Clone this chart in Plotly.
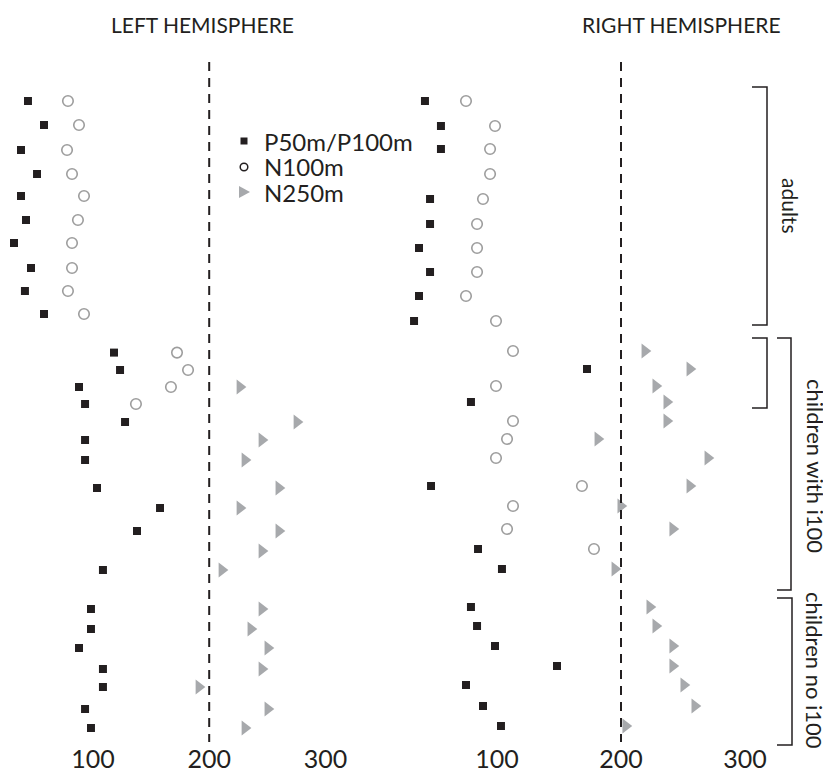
import plotly.graph_objects as go

# ---------------- data ----------------
# row positions (subject order, top to bottom)
left_rows = [1.0, 2.2, 3.45, 4.65, 5.75, 6.95, 8.1, 9.35, 10.5, 11.65,
             13.58, 14.45, 15.3, 16.15, 17.05, 17.95, 18.95, 20.35, 21.35, 22.5, 23.5, 24.45,
             26.4, 27.4, 28.35, 29.4, 30.3, 31.4, 32.35]
right_rows = [1.0, 2.25, 3.4, 4.65, 5.9, 7.15, 8.35, 9.55, 10.75, 12.0,
              13.5, 14.4, 15.25, 16.05, 17.0, 17.9, 18.85, 20.25, 21.25, 22.4, 23.4, 24.4,
              26.3, 27.25, 28.25, 29.25, 30.2, 31.25, 32.25]

N = None
left_p = [44.1, 57.9, 38.1, 51.9, 38.1, 42.4, 32.1, 46.7, 41.5, 57.9,
          118.1, 123.3, 88.0, 93.2, 127.6, 93.2, 93.2, 103.5, 157.7, 137.9, N, 108.6,
          98.3, 98.3, 88.0, 108.6, 108.6, 93.2, 98.3]
left_n100 = [78.5, 88.0, 77.7, 82.0, 92.3, 87.1, 82.0, 82.0, 78.5, 92.3,
             172.3, 181.8, 167.1, 137.0, N, N, N, N, N, N, N, N,
             N, N, N, N, N, N, N]
left_n250 = [N, N, N, N, N, N, N, N, N, N,
             N, N, 226.4, N, 275.4, 245.3, 230.7, 259.9, 226.4, 259.9, 245.3, 210.9,
             245.3, 235.8, 250.4, 245.3, 191.1, 250.4, 230.7]

right_p = [41.9, 54.8, 54.8, N, 46.0, 46.0, 37.1, 46.0, 37.1, 33.1,
           N, 172.6, N, 79.0, N, N, N, 46.8, N, N, 84.7, 104.0,
           79.0, 83.9, 98.4, 148.4, 75.0, 88.7, 103.2]
right_n100 = [75.0, 98.4, 94.4, 94.4, 88.7, 83.9, 83.9, 83.9, 75.0, 99.2,
              112.9, N, 99.2, N, 112.9, 108.1, 99.2, 168.5, 112.9, 108.1, 178.2, N,
              N, N, N, N, N, N, N]
right_n250 = [N, N, N, N, N, N, N, N, N, N,
              219.2, 255.5, 228.0, 236.9, 236.9, 181.3, 270.0, 255.5, 199.8, 241.7, N, 195.0,
              223.2, 228.0, 241.7, 241.7, 250.6, 259.5, 203.8]

tick_vals = [100, 200, 300]
tick_text = ["100", "200", "300"]
threshold = 200
titles = ["LEFT HEMISPHERE", "RIGHT HEMISPHERE"]
legend_names = ["P50m/P100m", "N100m", "N250m"]
groups = ["adults", "children with i100", "children no i100"]

# ---------------- style ----------------
W, H = 831, 784
OFF = 8  # page body margin
BLACK = "#231f20"
GRAY = "#a7a9ac"
CIRC = "#9d9d9d"
FONT = "Lato"


def xp(px):
    return (px - OFF) / W


def yp(px):
    return 1 - (px - OFF) / H


fig = go.Figure()

panels = [
    (left_rows, left_p, left_n100, left_n250, "x", "y"),
    (right_rows, right_p, right_n100, right_n250, "x2", "y2"),
]
for rows, p, n100, n250, xa, ya in panels:
    fig.add_trace(go.Scatter(x=p, y=rows, mode="markers", xaxis=xa, yaxis=ya,
                             marker=dict(symbol="square", size=8, color=BLACK),
                             showlegend=False, name=legend_names[0]))
    fig.add_trace(go.Scatter(x=n100, y=rows, mode="markers", xaxis=xa, yaxis=ya,
                             marker=dict(symbol="circle-open", size=10.5, color=CIRC,
                                         line=dict(width=1.6, color=CIRC)),
                             showlegend=False, name=legend_names[1]))
    fig.add_trace(go.Scatter(x=n250, y=rows, mode="markers", xaxis=xa, yaxis=ya,
                             marker=dict(symbol="triangle-right", size=13, color=GRAY),
                             showlegend=False, name=legend_names[2]))

# page-pixel calibration: left 200 -> 209.2px (1.1625 px/unit); right 200 -> 621px (1.24 px/unit)
axis_bottom_px = 742
ydom = [yp(axis_bottom_px), 1]
yrange = [(axis_bottom_px - 81) / 20, (OFF - 81) / 20]

L_LO, L_HI = OFF, 390
R_LO, R_HI = 395, W + OFF

common_x = dict(tickvals=tick_vals, ticktext=tick_text, showgrid=False, zeroline=False,
                showline=False, ticks="", tickfont=dict(family=FONT, size=25, color=BLACK))
common_y = dict(range=yrange, domain=ydom, showgrid=False, zeroline=False,
                showline=False, showticklabels=False, ticks="")

fig.update_layout(
    width=W, height=H, margin=dict(l=0, r=0, t=0, b=0),
    paper_bgcolor="white", plot_bgcolor="white",
    xaxis=dict(common_x, range=[200 + (L_LO - 209.2) / 1.1625, 200 + (L_HI - 209.2) / 1.1625],
               domain=[xp(L_LO), xp(L_HI)], anchor="y"),
    xaxis2=dict(common_x, range=[200 + (R_LO - 621) / 1.24, 200 + (R_HI - 621) / 1.24],
                domain=[xp(R_LO), xp(R_HI)], anchor="y2"),
    yaxis=dict(common_y, anchor="x"),
    yaxis2=dict(common_y, anchor="x2"),
    showlegend=False,
)

shapes = []
# dashed threshold lines
for xa in ["x", "x2"]:
    shapes.append(dict(type="line", xref=xa, yref="paper", x0=threshold, x1=threshold,
                       y0=yp(62), y1=yp(742),
                       line=dict(color=BLACK, width=2, dash="9px,7px")))

# legend glyphs
lx = 244
shapes.append(dict(type="rect", xref="paper", yref="paper",
                   x0=xp(lx - 3.5), x1=xp(lx + 3.5), y0=yp(141 - 3.5), y1=yp(141 + 3.5),
                   fillcolor=BLACK, line=dict(width=0)))
shapes.append(dict(type="circle", xref="paper", yref="paper",
                   x0=xp(lx - 3.8), x1=xp(lx + 3.8), y0=yp(167 - 3.8), y1=yp(167 + 3.8),
                   line=dict(color=BLACK, width=1.5)))
shapes.append(dict(type="path", xref="paper", yref="paper",
                   path=f"M {xp(lx-5)} {yp(192-6)} L {xp(lx+6)} {yp(192)} L {xp(lx-5)} {yp(192+6)} Z",
                   fillcolor=GRAY, line=dict(width=0)))


def bracket(x_in, x_out, y0, y1):
    return dict(type="path", xref="paper", yref="paper",
                path=f"M {xp(x_in)} {yp(y0)} L {xp(x_out)} {yp(y0)} L {xp(x_out)} {yp(y1)} L {xp(x_in)} {yp(y1)}",
                line=dict(color=BLACK, width=1.5))


shapes.append(bracket(752, 767, 87, 325))
shapes.append(bracket(752, 767, 338, 408))
shapes.append(bracket(777, 791, 338, 590))
shapes.append(bracket(777, 792, 598, 745))
fig.update_layout(shapes=shapes)

ann = []


def add_text(text, x, y, size, xanchor="center", angle=0):
    ann.append(dict(text=text, x=xp(x), y=yp(y), xref="paper", yref="paper",
                    xanchor=xanchor, yanchor="middle", textangle=angle, showarrow=False,
                    font=dict(family=FONT, size=size, color=BLACK)))


add_text(titles[0], 202, 24, 21)
add_text(titles[1], 681, 24, 21)
for name, yy in zip(legend_names, [141, 167, 192]):
    add_text(name, 262, yy, 24, xanchor="left")
add_text(groups[0], 790, 205, 21, angle=90)
add_text(groups[1], 815, 466, 22, angle=90)
add_text(groups[2], 815, 670, 22, angle=90)
fig.update_layout(annotations=ann)

fig.write_html("out.html")
